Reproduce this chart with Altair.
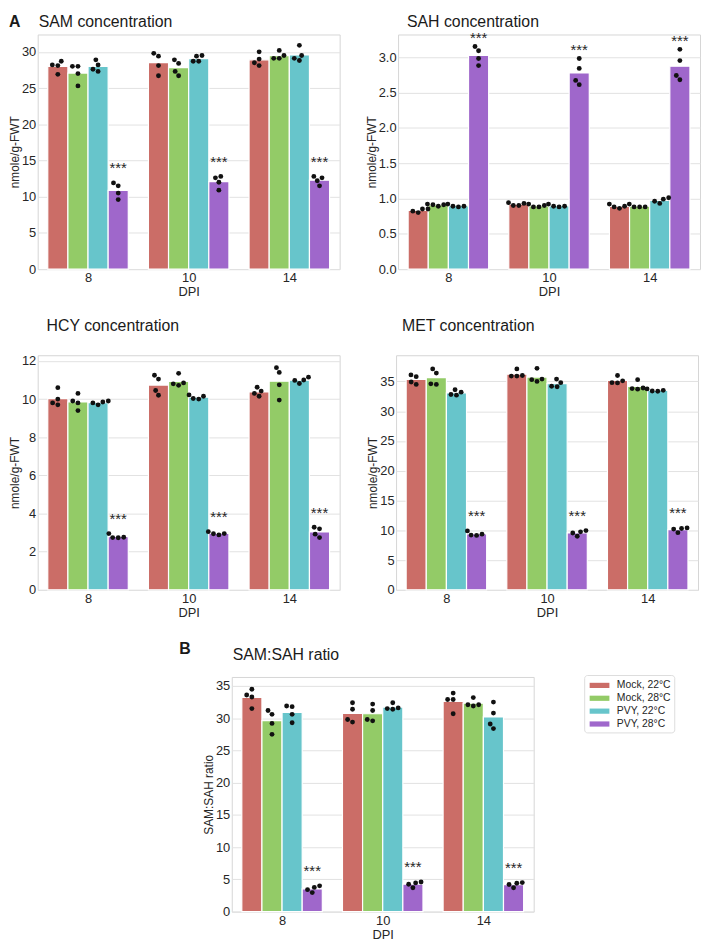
import math
import altair as alt
import pandas as pd

FONT = "Liberation Sans"

groups = ["Mock, 22°C", "Mock, 28°C", "PVY, 22°C", "PVY, 28°C"]
colors = ["#CB6D67", "#93CB67", "#67C5CB", "#9F67CB"]
dpi = ["8", "10", "14"]
sig_group = "PVY, 28°C"

# replicate values: [dpi][group][replicate]
sam = [
    [[28.7, 28.1, 28.2, 26.9], [28.0, 28.0, 27.0, 25.3], [28.9, 28.2, 27.6, 27.3], [11.9, 11.5, 10.5, 9.6]],
    [[29.8, 29.4, 28.1, 26.7], [28.9, 28.4, 27.3, 26.7], [29.4, 29.5, 28.7, 28.7], [12.8, 12.6, 12.0, 10.9]],
    [[30.0, 29.0, 28.5, 28.1], [30.2, 29.5, 29.1, 29.1], [30.9, 29.5, 29.1, 28.8], [12.8, 12.6, 12.2, 11.5]],
]
sah = [
    [[0.82, 0.80, 0.85, 0.85], [0.91, 0.89, 0.91, 0.92], [0.92, 0.89, 0.88, 0.89], [3.15, 3.09, 2.98, 2.88]],
    [[0.94, 0.90, 0.90, 0.93], [0.92, 0.88, 0.88, 0.90], [0.92, 0.89, 0.88, 0.89], [2.98, 2.84, 2.67, 2.61]],
    [[0.92, 0.88, 0.86, 0.89], [0.92, 0.88, 0.88, 0.88], [0.96, 1.01, 0.93, 0.99], [3.11, 2.95, 2.74, 2.68]],
]
hcy = [
    [[10.6, 10.0, 9.8, 9.7], [10.3, 9.9, 9.8, 9.4], [9.8, 9.7, 9.85, 9.9], [2.95, 2.74, 2.73, 2.76]],
    [[11.25, 11.05, 10.45, 10.2], [11.35, 10.8, 10.72, 10.85], [10.22, 10.03, 10.0, 10.15], [3.05, 2.94, 2.88, 2.95]],
    [[10.62, 10.42, 10.3, 10.15], [11.65, 11.4, 10.75, 9.95], [11.0, 10.82, 10.98, 11.15], [3.28, 3.2, 2.92, 2.74]],
]
met = [
    [[36.1, 35.8, 34.9, 34.5], [37.1, 36.4, 34.6, 34.5], [33.6, 33.2, 32.8, 32.7], [9.9, 9.35, 9.15, 9.2]],
    [[37.1, 35.9, 35.9, 36.0], [37.2, 35.3, 35.0, 35.4], [35.4, 34.8, 34.2, 34.1], [9.75, 9.0, 9.55, 9.95]],
    [[36.0, 34.75, 34.8, 35.1], [35.3, 33.8, 33.7, 33.9], [33.75, 33.4, 33.35, 33.5], [10.3, 9.6, 10.2, 10.4]],
]
ratio = [
    [[34.5, 33.6, 33.3, 31.5], [31.2, 30.6, 29.2, 27.5], [31.9, 31.8, 30.6, 29.3], [3.4, 2.95, 3.75, 4.0]],
    [[32.4, 31.4, 29.8, 29.4], [32.2, 31.2, 29.8, 29.6], [32.4, 31.5, 31.4, 31.6], [4.25, 3.7, 4.45, 4.6]],
    [[33.9, 32.9, 32.9, 30.7], [33.2, 32.1, 31.9, 32.1], [32.5, 30.8, 29.1, 28.4], [4.2, 3.7, 4.4, 4.5]],
]

W, H = 305, 237
DOT = 5.6  # swarm spacing in px


def swarm(vals, ppu_y, ppu_x):
    placed = []
    for v in sorted(vals):
        y = v * ppu_y
        cands = [0.0]
        for px, py in placed:
            dy = abs(y - py)
            if dy < DOT:
                dx = math.sqrt(DOT * DOT - dy * dy)
                cands += [px + dx, px - dx]
        cands.sort(key=lambda c: (abs(c), c))
        for c in cands:
            if all((c - px) ** 2 + (y - py) ** 2 >= DOT * DOT - 1e-6 for px, py in placed):
                placed.append((c, y))
                break
    return [(px / ppu_x, py / ppu_y) for px, py in placed]


label_expr = " : ".join(f"datum.value == {i} ? '{d}'" for i, d in enumerate(dpi[:-1])) + f" : '{dpi[-1]}'"


def text_layer(txt, x, y, size, weight="normal", baseline="alphabetic"):
    return alt.Chart(pd.DataFrame({"t": [txt]})).mark_text(
        fontSize=size, font=FONT, fontWeight=weight, color="#1a1a1a", align="left", baseline=baseline
    ).encode(x=alt.value(x), y=alt.value(y), text="t:N")


def panel(values, title, ytitle, ymax, ticks, fmt, title_pos, letter=None, letter_pos=None, legend=None,
          baseline="alphabetic", star_frac=0.075):
    ppu_y = H / ymax
    ppu_x = W / 3.0
    bars, pts, stars = [], [], []
    for i, d in enumerate(dpi):
        for g, grp in enumerate(groups):
            reps = values[i][g]
            mean = sum(reps) / len(reps)
            c = i + (g - 1.5) * 0.2
            bars.append({"x": c - 0.1, "x2": c + 0.1, "y": mean, "y0": 0.0, "group": grp})
            for dx, yy in swarm(reps, ppu_y, ppu_x):
                pts.append({"x": c + dx, "y": yy})
            if grp == sig_group:
                stars.append({"x": c, "y": max(reps) + star_frac * ymax, "t": "***"})
    xenc = alt.X("x:Q", scale=alt.Scale(domain=[-0.5, 2.5], nice=False, zero=False),
                 axis=alt.Axis(values=[0, 1, 2], labelExpr=label_expr, title="DPI", grid=False,
                               titleFontSize=13, labelPadding=3, titlePadding=1))
    yenc = alt.Y("y:Q", scale=alt.Scale(domain=[0, ymax], nice=False, zero=True),
                 axis=alt.Axis(values=ticks, format=fmt, title=ytitle, grid=True))
    color_kw = dict(scale=alt.Scale(domain=groups, range=colors))
    color_kw["legend"] = legend
    bar_layer = alt.Chart(pd.DataFrame(bars)).mark_rect(stroke="white", strokeWidth=1.2).encode(
        x=xenc, x2="x2:Q", y=yenc, y2="y0:Q", color=alt.Color("group:N", **color_kw)
    )
    pt_layer = alt.Chart(pd.DataFrame(pts)).mark_circle(size=24, color="#111111", opacity=1).encode(x=xenc, y=yenc)
    star_layer = alt.Chart(pd.DataFrame(stars)).mark_text(
        fontSize=15, font=FONT, color="#262626", baseline="middle", dy=3
    ).encode(x=xenc, y=yenc, text="t:N")
    layers = [bar_layer, pt_layer, star_layer,
              text_layer(title, title_pos[0], title_pos[1], 16, baseline=baseline)]
    if letter:
        layers.append(text_layer(letter, letter_pos[0], letter_pos[1], 16, "bold", baseline=baseline))
    return alt.layer(*layers).properties(width=W, height=H)


legend = alt.Legend(
    orient="none", legendX=356, legendY=-2, title=None,
    symbolType="M-1.33,-0.35H1.33V0.35H-1.33Z", symbolSize=225, symbolStrokeWidth=0, symbolOffset=5,
    labelFont=FONT, labelFontSize=10.5, labelColor="#262626", labelOffset=10,
    padding=3, strokeColor="#dddddd", cornerRadius=3, fillColor="white", rowPadding=0,
)

p_sam = panel(sam, "SAM concentration", "nmole/g-FWT", 32.4, [0, 5, 10, 15, 20, 25, 30], "d", (1, -21),
              letter="A", letter_pos=(-29, -21), baseline="top")
p_sah = panel(sah, "SAH concentration", "nmole/g-FWT", 3.32, [0, 0.5, 1.0, 1.5, 2.0, 2.5, 3.0], ".1f", (9, -21),
              baseline="top", star_frac=0.05)
p_hcy = panel(hcy, "HCY concentration", "nmole/g-FWT", 12.3, [0, 2, 4, 6, 8, 10, 12], "d", (9, -24))
p_met = panel(met, "MET concentration", "nmole/g-FWT", 39.4, [0, 5, 10, 15, 20, 25, 30, 35], "d", (6, -24))
p_ratio = panel(ratio, "SAM:SAH ratio", "SAM:SAH ratio", 36.4, [0, 5, 10, 15, 20, 25, 30, 35], "d", (1, -17),
                letter="B", letter_pos=(-53, -23), legend=legend)

spacer = alt.Chart(pd.DataFrame({"a": [0]})).mark_point(opacity=0).encode(
    x=alt.X("a:Q", axis=None), y=alt.Y("a:Q", axis=None)
).properties(width=121, height=10, view=alt.ViewBackground(stroke="transparent"))

row1 = alt.hconcat(p_sam, p_sah, spacing=24).resolve_scale(color="independent")
row2 = alt.hconcat(p_hcy, p_met, spacing=26).resolve_scale(color="independent")
row3 = alt.hconcat(spacer, p_ratio, spacing=20).resolve_scale(color="independent")
top = alt.vconcat(row1, row2, spacing=18).resolve_scale(color="independent")

chart = alt.vconcat(top, row3, spacing=20).resolve_scale(color="independent").properties(
    padding=0
).configure_view(
    stroke="#d6d6d6", strokeWidth=1
).configure_axis(
    labelFont=FONT, titleFont=FONT, labelFontSize=13, titleFontSize=12,
    labelColor="#262626", titleColor="#262626", titleFontWeight="normal",
    gridColor="#e2e2e2", gridWidth=1, domain=False, ticks=False,
    labelPadding=2, titlePadding=0,
)

chart.save("out.html", embed_options={"renderer": "svg", "actions": False})
